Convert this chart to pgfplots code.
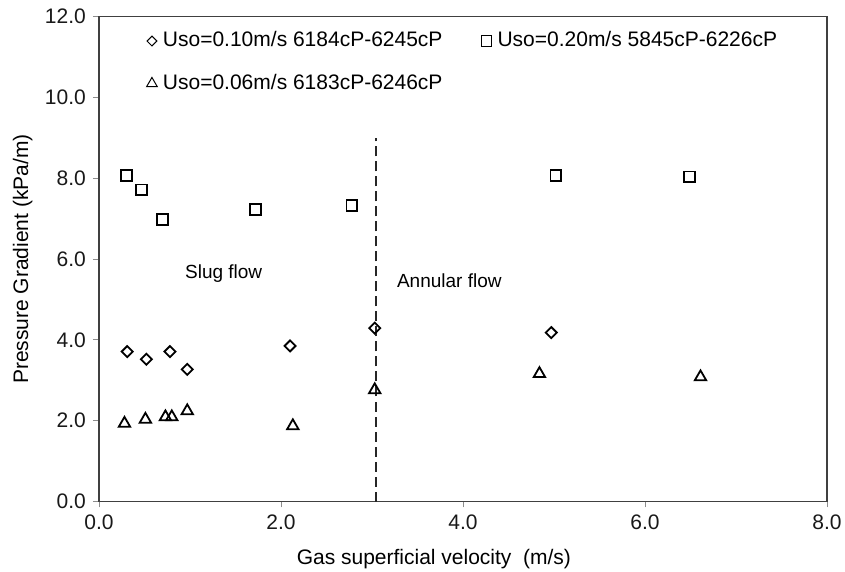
\documentclass[border=0pt]{standalone}
\usepackage{pgfplots}
\pgfplotsset{compat=1.18}
\usepackage{fontspec}
\setmainfont{Liberation Sans}
\begin{document}
\fontsize{21bp}{25bp}\selectfont
\begin{tikzpicture}
\begin{axis}[name=ax, at={(0,0)}, anchor=south west,
  scale only axis, width=728bp, height=485bp,
  xmin=0, xmax=8, ymin=0, ymax=12,
  xtick={0,2,4,6,8}, ytick={0,2,4,6,8,10,12},
  /pgf/number format/assume math mode=true,
  xticklabel style={/pgf/number format/.cd, fixed, fixed zerofill, precision=1},
  yticklabel style={/pgf/number format/.cd, fixed, fixed zerofill, precision=1},
  tick label style={font=\fontsize{21bp}{25bp}\selectfont, black!90},
  tick pos=left, tick align=outside, major tick length=6bp,
  tick style={black!45, line width=0.9bp},
  axis line style={black!75, line width=1.1bp},
  xlabel={Gas superficial velocity\ \ (m/s)},
  xlabel style={at={(rel axis cs:0.46,0)}, anchor=base, yshift=-63bp, font=\fontsize{21bp}{25bp}\selectfont},
  ylabel={Pressure Gradient (kPa/m)},
  ylabel style={at={(axis description cs:-0.0975,0.5)}, anchor=base, font=\fontsize{21bp}{25bp}\selectfont},
  legend columns=2,
  legend image code/.code={\path[draw=none, fill=none] (-7bp,-7bp) rectangle (11bp,7bp); \draw[#1] plot coordinates {(0bp,0bp)};},
  legend style={at={(axis cs:0.505,11.64)}, anchor=north west, draw=none, fill=none,
    inner sep=0bp, outer sep=0bp,
    nodes={inner sep=0bp, text height=15.5bp, text depth=4.5bp},
    font=\fontsize{21bp}{25bp}\selectfont, row sep=22.6bp,
    /tikz/every even column/.append style={column sep=37bp}},
]
\addplot[only marks, black, mark=square, mark size=3.9bp, line width=1.8bp,
  mark options={rotate=45, line width=1.8bp, fill=none},
  legend image post style={mark size=3.5bp, line width=1bp, mark options={rotate=45, line width=1bp, fill=none}}]
  coordinates {(0.31,3.71) (0.52,3.52) (0.78,3.71) (0.97,3.27) (2.10,3.85) (3.03,4.29) (4.97,4.18)};
\addlegendentry{Uso=0.10m/s 6184cP-6245cP}
\addplot[only marks, black, mark=square, mark size=5.4bp, line width=1.8bp,
  mark options={line width=1.8bp, fill=none},
  legend image post style={mark size=5.2bp, line width=1bp, mark options={line width=1bp, fill=none}}]
  coordinates {(0.30,8.06) (0.47,7.71) (0.70,6.97) (1.72,7.22) (2.78,7.33) (5.02,8.07) (6.49,8.03)};
\addlegendentry{Uso=0.20m/s 5845cP-6226cP}
\addplot[only marks, black, mark=triangle, mark size=6.6bp, line width=1.8bp,
  mark options={line width=1.8bp, fill=none},
  legend image post style={mark size=6.2bp, line width=1bp, mark options={line width=1bp, fill=none}}]
  coordinates {(0.28,1.93) (0.51,2.03) (0.73,2.09) (0.80,2.09) (0.97,2.24) (2.13,1.87) (3.03,2.76) (4.84,3.16) (6.61,3.08)};
\addlegendentry{Uso=0.06m/s 6183cP-6246cP}
\addplot[black!85, line width=2bp, dash pattern=on 10bp off 5bp, forget plot] coordinates {(3.04,0) (3.04,9.0)};
\node[font=\fontsize{19bp}{23bp}\selectfont] at (axis cs:1.37,5.63) {Slug flow};
\node[font=\fontsize{19bp}{23bp}\selectfont] at (axis cs:3.85,5.47) {Annular\ flow};
\end{axis}
\pgfresetboundingbox
\path[use as bounding box] (ax.south west) ++(-99bp,-70.5bp) rectangle ++(845bp,572bp);
\end{tikzpicture}
\end{document}
